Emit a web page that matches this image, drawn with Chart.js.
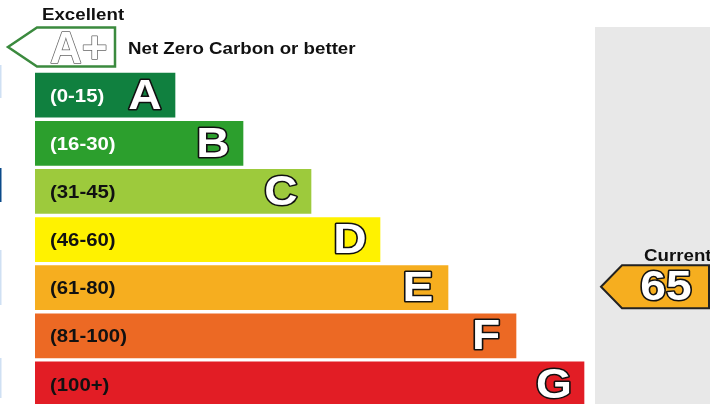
<!DOCTYPE html>
<html>
<head>
<meta charset="utf-8">
<script src="https://cdn.jsdelivr.net/npm/chart.js@4"></script>
<style>
  html, body { margin: 0; padding: 0; background: #fff; overflow: hidden; }
  #wrap { width: 710px; height: 404px; overflow: hidden; position: relative; }
</style>
</head>
<body>
<div id="wrap"><canvas id="epc" width="710" height="408"></canvas></div>
<script>
// ------------------------------------------------------------
// EPC style rating chart
// ------------------------------------------------------------

const bands       = ['A+', 'A', 'B', 'C', 'D', 'E', 'F', 'G'];
const bandRanges  = ['', '(0-15)', '(16-30)', '(31-45)', '(46-60)', '(61-80)', '(81-100)', '(100+)'];
const bandLengths = [null, 140, 208, 276, 345, 413, 481, 549];
const bandColors  = ['#ffffff', '#10803f', '#2c9f2d', '#9dca3c', '#fff200', '#f6ae1f', '#ec6924', '#e21d25'];
const rangeInk    = ['#000', '#ffffff', '#ffffff', '#111', '#111', '#111', '#111', '#111'];
const topBand     = { label: 'A+', length: 80, title: 'Excellent', note: 'Net Zero Carbon or better' };
const current     = { label: 'Current', score: 65, band: 'E' };
const panelRange  = [560, 676];   // grey "current" column on the x scale

const FONT = '"Liberation Sans", Arial, sans-serif';
const STRETCH = 1.1;   // source text is a little wider than plain Arial

function text(ctx, txt, x, y, size, color, sx = STRETCH) {
  ctx.save();
  ctx.translate(x, y);
  ctx.scale(sx, 1);
  ctx.font = `bold ${size}px ${FONT}`;
  ctx.fillStyle = color;
  ctx.fillText(txt, 0, 0);
  ctx.restore();
}

function outlinedText(ctx, txt, x, y, size, stroke, width, sx = STRETCH) {
  ctx.save();
  ctx.translate(x, y);
  ctx.scale(sx, 1);
  ctx.font = `bold ${size}px ${FONT}`;
  ctx.lineJoin = 'round';
  ctx.lineWidth = width;
  ctx.strokeStyle = stroke;
  ctx.strokeText(txt, 0, 0);
  ctx.fillStyle = '#fff';
  ctx.fillText(txt, 0, 0);
  ctx.restore();
}

const epcPlugin = {
  id: 'epc',
  beforeDatasetsDraw(chart) {
    const { ctx, scales: { x }, chartArea } = chart;
    ctx.save();
    // grey column behind the current rating
    ctx.fillStyle = '#e8e8e8';
    ctx.fillRect(x.getPixelForValue(panelRange[0]), 27, x.getPixelForValue(panelRange[1]) - x.getPixelForValue(panelRange[0]), chartArea.bottom);
    // thin page-edge strips seen on the left of the source image
    [['#cfe0f3', 65, 33], ['#0b4a8a', 168, 34], ['#cfe0f3', 250, 55], ['#cfe0f3', 358, 40]].forEach(([c, y, h]) => {
      ctx.fillStyle = c;
      ctx.fillRect(0, y, 1.5, h);
    });
    ctx.restore();
  },
  afterDatasetsDraw(chart) {
    const { ctx, scales: { x, y } } = chart;
    const x0 = x.getPixelForValue(0);
    ctx.save();

    // A+ outlined arrow
    const yc = y.getPixelForValue(bands.indexOf(topBand.label));
    const xr = x.getPixelForValue(topBand.length);
    ctx.beginPath();
    ctx.moveTo(x0 - 27, yc);
    ctx.lineTo(x0 + 2, yc - 19.5);
    ctx.lineTo(xr, yc - 19.5);
    ctx.lineTo(xr, yc + 19.5);
    ctx.lineTo(x0 + 2, yc + 19.5);
    ctx.closePath();
    ctx.strokeStyle = '#3b8a3e';
    ctx.lineWidth = 2.5;
    ctx.stroke();
    ctx.textBaseline = 'alphabetic';
    ctx.textAlign = 'left';
    outlinedText(ctx, 'A+', x0 + 15, yc + 16, 44, '#666', 1.5, 1);
    text(ctx, topBand.title, x0 + 7, yc - 27, 17, '#111');
    text(ctx, topBand.note, xr + 13, yc + 7, 17, '#111');

    // band labels and letters
    chart.getDatasetMeta(0).data.forEach((bar, i) => {
      if (bandLengths[i] == null) return;
      ctx.textBaseline = 'middle';
      ctx.textAlign = 'left';
      text(ctx, bandRanges[i], x0 + 15, bar.y + 1.5, 18.5, rangeInk[i]);
      ctx.textAlign = 'center';
      outlinedText(ctx, bands[i], bar.x - 30, bar.y + 2, 42, '#111', 3);
    });

    // current rating arrow
    const cy = y.getPixelForValue(bands.indexOf(current.band)) - 1;
    const tip = x.getPixelForValue(panelRange[0]) + 6;
    const right = x.getPixelForValue(panelRange[1]) - 2;
    ctx.beginPath();
    ctx.moveTo(tip, cy);
    ctx.lineTo(tip + 21, cy - 21.5);
    ctx.lineTo(right, cy - 21.5);
    ctx.lineTo(right, cy + 21.5);
    ctx.lineTo(tip + 21, cy + 21.5);
    ctx.closePath();
    ctx.fillStyle = bandColors[bands.indexOf(current.band)];
    ctx.fill();
    ctx.strokeStyle = '#222';
    ctx.lineWidth = 2;
    ctx.stroke();
    ctx.textAlign = 'center';
    ctx.textBaseline = 'middle';
    outlinedText(ctx, String(current.score), tip + 65, cy + 2, 42, '#111', 3);
    ctx.textAlign = 'left';
    ctx.textBaseline = 'alphabetic';
    text(ctx, current.label, tip + 43, cy - 26, 17, '#111');

    ctx.restore();
  }
};

new Chart(document.getElementById('epc'), {
  type: 'bar',
  data: {
    labels: bands,
    datasets: [{
      data: bandLengths,
      backgroundColor: bandColors,
      borderWidth: 0,
      barThickness: 44,
    }]
  },
  options: {
    indexAxis: 'y',
    responsive: false,
    animation: false,
    devicePixelRatio: 1,
    layout: { padding: { left: 35, right: 0, top: 23, bottom: 0 } },
    plugins: { legend: { display: false }, tooltip: { enabled: false } },
    scales: {
      x: { display: false, min: 0, max: 675 },
      y: { display: false }
    }
  },
  plugins: [epcPlugin]
});
</script>
</body>
</html>
